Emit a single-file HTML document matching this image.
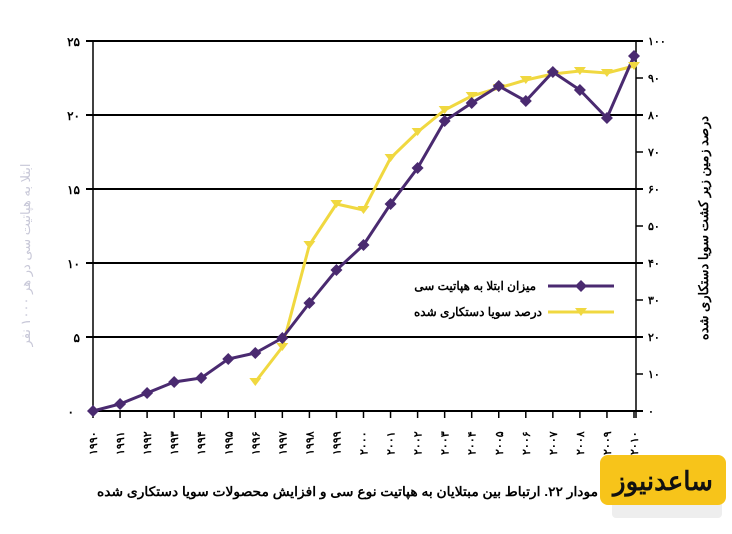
<!DOCTYPE html>
<html><head><meta charset="utf-8"><style>
body{margin:0;background:#fff;width:732px;height:529px;overflow:hidden;font-family:"Liberation Sans","Noto Sans CJK SC",sans-serif}
</style></head><body>
<svg width="732" height="529" xmlns="http://www.w3.org/2000/svg" font-family="'Liberation Sans','Noto Sans CJK SC',sans-serif">
<g stroke="#000" stroke-width="2">
<line x1="86" y1="41" x2="643" y2="41"/>
<line x1="86" y1="115" x2="643" y2="115"/>
<line x1="86" y1="189" x2="643" y2="189"/>
<line x1="86" y1="263" x2="643" y2="263"/>
<line x1="86" y1="337" x2="643" y2="337"/>
<line x1="93" y1="411" x2="643" y2="411"/>
<line x1="93" y1="41" x2="93" y2="411" stroke-width="1.5"/>
<line x1="636" y1="41" x2="636" y2="418" stroke-width="1.5"/>
</g>
<g stroke="#000" stroke-width="1.5" id="rt"></g>
<g font-size="12" font-weight="bold" text-anchor="end">
<text x="80" y="46">۲۵</text><text x="80" y="120">۲۰</text><text x="80" y="194">۱۵</text><text x="80" y="268">۱۰</text><text x="80" y="342">۵</text><text x="74" y="416">۰</text>
</g>
<g font-size="11" font-weight="bold" id="rl"></g>
<text transform="translate(30,255) rotate(-90)" font-size="13" fill="#c8c8d8" text-anchor="middle">ابتلا به هپاتیت سی در هر ۱۰۰۰ نفر</text>
<text transform="translate(708,228) rotate(-90)" font-size="13" font-weight="bold" text-anchor="middle">درصد زمین زیر کشت سویا دستکاری شده</text>
<g id="xt"></g>
<polyline id="py" fill="none" stroke="#f0d840" stroke-width="3"/>
<polyline id="pp" fill="none" stroke="#4a2a70" stroke-width="3"/>
<g id="mk"></g>
<rect x="438" y="272" width="180" height="55" fill="#fff"/>
<text x="536" y="290" font-size="12" font-weight="bold" text-anchor="end">میزان ابتلا به هپاتیت سی</text>
<text x="542" y="316" font-size="12" font-weight="bold" text-anchor="end">درصد سویا دستکاری شده</text>
<line x1="548" y1="286" x2="614" y2="286" stroke="#4a2a70" stroke-width="3"/>
<polygon points="581,280 587,286 581,292 575,286" fill="#4a2a70"/>
<line x1="548" y1="312" x2="614" y2="312" stroke="#f0d840" stroke-width="3"/>
<polygon points="575,308 587,308 581,316" fill="#f0d840"/>
<text x="97" y="496" font-size="13" font-weight="bold" textLength="501" lengthAdjust="spacingAndGlyphs">مودار ۲۲. ارتباط بین مبتلایان به هپاتیت نوع سی و افزایش محصولات سویا دستکاری شده</text>
<rect x="612" y="488" width="110" height="30" rx="4" fill="#eee"/>
<rect x="600" y="455" width="126" height="50" rx="8" fill="#f7c41a"/>
<text x="663" y="490" font-size="26" font-weight="bold" text-anchor="middle" fill="#111">ساعدنیوز</text>
</svg>
<script>
const ns="http://www.w3.org/2000/svg";
function el(t,a,p,txt){const e=document.createElementNS(ns,t);for(const k in a)e.setAttribute(k,a[k]);if(txt)e.textContent=txt;document.getElementById(p).appendChild(e);}
const fa=s=>s.replace(/\d/g,d=>"۰۱۲۳۴۵۶۷۸۹"[d]);
for(let i=0;i<=10;i++){const y=411-i*37;el("line",{x1:636,y1:y,x2:643,y2:y},"rt");el("text",{x:648,y:y+4},"rl",fa(String(i*10)));}
const X=i=>93+i*27.05;
for(let i=0;i<21;i++){el("line",{x1:X(i),y1:411,x2:X(i),y2:418,stroke:"#000","stroke-width":1.5},"xt");
el("text",{transform:`translate(${X(i)+4},455) rotate(-90)`,"font-size":11,"font-weight":"bold"},"xt",fa(String(1990+i)));}
const P=[411,404,393,382,378,359,353,338,303,270,245,204,168,121,103,86,101,72,90,118,56];
const Y=[382,347,245,204,210,158,132,110,96,88,80,74,71,73,66];
document.getElementById("pp").setAttribute("points",P.map((y,i)=>X(i)+","+y).join(" "));
document.getElementById("py").setAttribute("points",Y.map((y,i)=>X(i+6)+","+y).join(" "));
Y.forEach((y,i)=>{const x=X(i+6);el("polygon",{points:`${x-6},${y-4} ${x+6},${y-4} ${x},${y+4}`,fill:"#f0d840"},"mk");});
P.forEach((y,i)=>{const x=X(i);el("polygon",{points:`${x},${y-6} ${x+6},${y} ${x},${y+6} ${x-6},${y}`,fill:"#4a2a70"},"mk");});
</script>
</body></html>
